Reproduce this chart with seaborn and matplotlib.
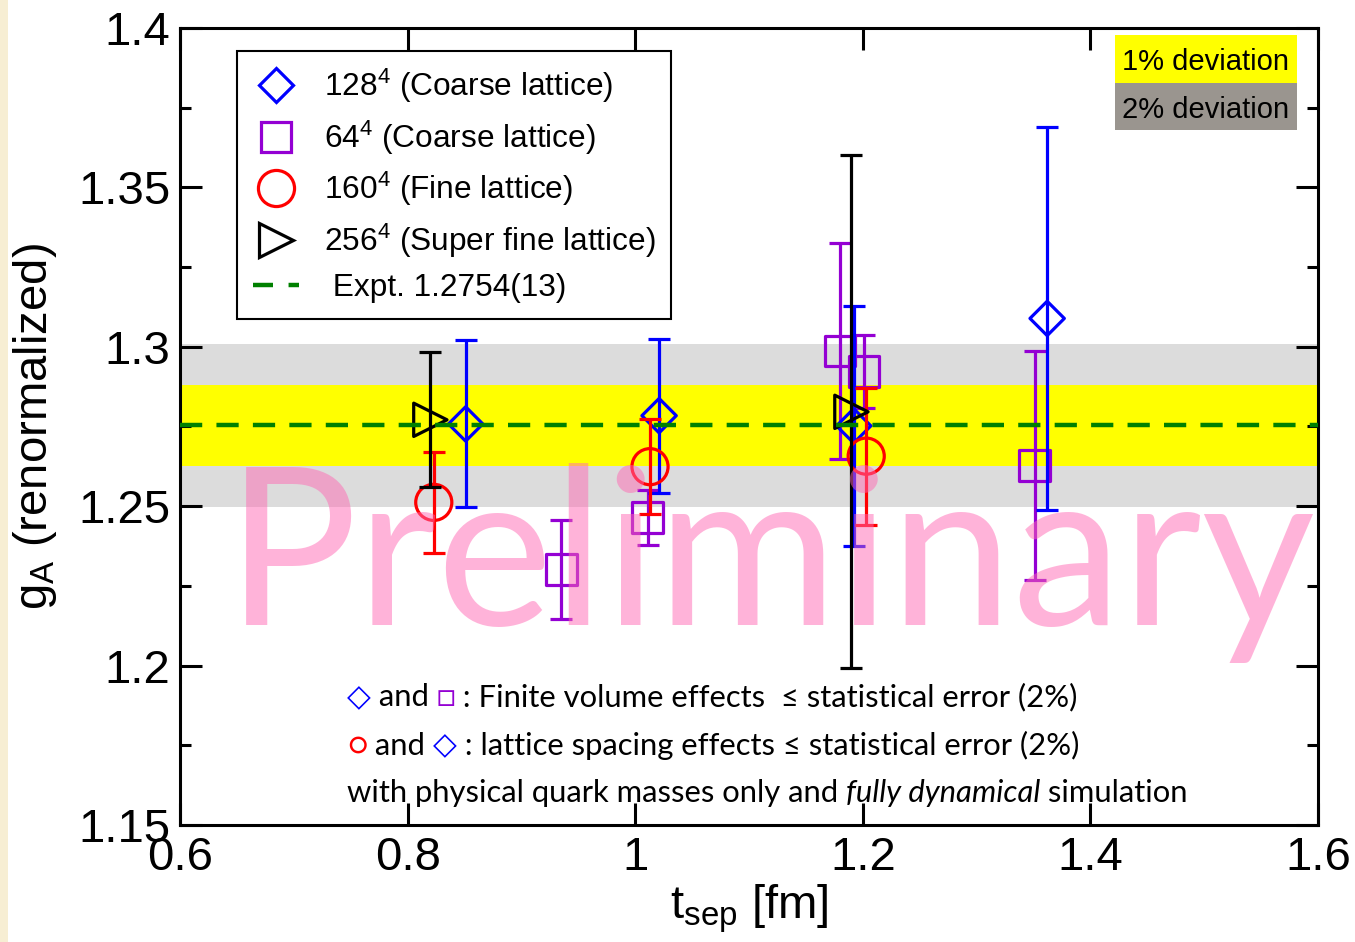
import numpy as np
import pandas as pd
import matplotlib
matplotlib.use('Agg')
import matplotlib.pyplot as plt
import seaborn as sns
from matplotlib.lines import Line2D
from matplotlib.patches import Rectangle

# ---------------- data ----------------
t_128 = [0.851, 1.021, 1.192, 1.362]
g_128 = [1.2758, 1.2784, 1.2752, 1.3089]
e_128 = [0.0262, 0.0242, 0.0377, 0.0600]

t_64 = [0.935, 1.011, 1.180, 1.201, 1.351]
g_64 = [1.2302, 1.2465, 1.2987, 1.2923, 1.2627]
e_64 = [0.0155, 0.0087, 0.0340, 0.0115, 0.0360]

t_160 = [0.823, 1.013, 1.203]
g_160 = [1.2512, 1.2624, 1.2657]
e_160 = [0.0158, 0.0150, 0.0215]

t_256 = [0.820, 1.190]
g_256 = [1.2771, 1.2796]
e_256 = [0.0212, 0.0805]

g_expt = 1.2754
dev_levels = [0.02, 0.01]
dev_labels = ["2% deviation", "1% deviation"]

series_labels = [r"128$^\mathregular{4}$ (Coarse lattice)",
                 r"64$^\mathregular{4}$ (Coarse lattice)",
                 r"160$^\mathregular{4}$ (Fine lattice)",
                 r"256$^\mathregular{4}$ (Super fine lattice)",
                 " Expt. 1.2754(13)"]

x_ticks = [0.6, 0.8, 1.0, 1.2, 1.4, 1.6]
x_ticklabels = ["0.6", "0.8", "1", "1.2", "1.4", "1.6"]
y_ticks = [1.15, 1.2, 1.25, 1.3, 1.35, 1.4]
y_ticklabels = ["1.15", "1.2", "1.25", "1.3", "1.35", "1.4"]

# ---------------- style ----------------
sns.set_theme(style="ticks")
plt.rcParams['font.family'] = ['Liberation Sans', 'DejaVu Sans']
plt.rcParams['mathtext.fontset'] = 'custom'
plt.rcParams['mathtext.rm'] = 'Liberation Sans'
plt.rcParams['mathtext.it'] = 'Liberation Sans:italic'
plt.rcParams['mathtext.bf'] = 'Liberation Sans:bold'
plt.rcParams['text.color'] = 'black'
plt.rcParams['axes.labelcolor'] = 'black'
plt.rcParams['xtick.color'] = 'black'
plt.rcParams['ytick.color'] = 'black'
plt.rcParams['xtick.labelcolor'] = 'black'
plt.rcParams['ytick.labelcolor'] = 'black'

BLUE = '#0000ff'
PURPLE = '#9400d3'
RED = '#ff0000'
BLACK = '#000000'
GREEN = '#008000'

fig = plt.figure(figsize=(13.55, 9.42), dpi=100)
fig.patch.set_facecolor('white')
ax = fig.add_axes([180/1355, 117/942, 1138/1355, 797/942])

# cream strip on the left edge
fig.patches.append(Rectangle((0, 0), 8/1355, 1, transform=fig.transFigure,
                             facecolor='#f7eed3', edgecolor='none', zorder=-5))

# deviation bands
band_colors = {0.02: '#dcdcdc', 0.01: '#ffff00'}
for lev in dev_levels:
    ax.axhspan(g_expt * (1 - lev), g_expt * (1 + lev), color=band_colors[lev],
               lw=0, zorder=0)

# data series
series = [
    (t_64, g_64, e_64, 's', 22, PURPLE, 3),
    (t_128, g_128, e_128, 'D', 17.5, BLUE, 4),
    (t_160, g_160, e_160, 'o', 26, RED, 5),
    (t_256, g_256, e_256, '>', 24, BLACK, 6),
]
for t, g, e, m, ms, c, z in series:
    ax.errorbar(t, g, yerr=e, fmt='none', ecolor=c, elinewidth=2.3,
                capsize=8, capthick=2.3, zorder=z)
    df = pd.DataFrame({'t': t, 'g': g})
    sns.scatterplot(data=df, x='t', y='g', marker=m, s=ms**2, ax=ax,
                    legend=False, zorder=z)
    coll = ax.collections[-1]
    coll.set_facecolor('none')
    coll.set_edgecolor(c)
    coll.set_linewidth(2.3)
    coll.set_zorder(z)

ax.axhline(g_expt, color=GREEN, lw=3.2, dashes=(5, 3.2), zorder=7)

# watermark
ax.text(1.119, 1.2127, "Preliminary", fontsize=158, family=['Lato', 'DejaVu Sans'],
        color='#ff69b4', alpha=0.5, ha='center', va='baseline', zorder=10)

# axes limits / ticks
ax.set_xlim(0.6, 1.6)
ax.set_ylim(1.15, 1.4)
ax.set_xticks(x_ticks)
ax.set_xticklabels(x_ticklabels)
ax.set_yticks(y_ticks)
ax.set_yticklabels(y_ticklabels)
ax.set_yticks(np.arange(1.175, 1.4, 0.05), minor=True)
ax.tick_params(axis='both', which='major', direction='in', length=16, width=2.2,
               labelsize=34, top=True, right=True, color='black', labelcolor='black')
ax.tick_params(axis='y', which='minor', direction='in', length=8, width=2.2,
               left=True, right=True, color='black')
ax.tick_params(axis='y', which='major', pad=7)
ax.tick_params(axis='x', which='major', pad=8)
for sp in ax.spines.values():
    sp.set_linewidth(2.2)
    sp.set_color('black')
    sp.set_visible(True)
ax.set_facecolor('white')

ax.set_xlabel(r"t$_\mathregular{sep}$ [fm]", fontsize=34, labelpad=2, color='black')
ax.set_ylabel(r"g$_\mathregular{A}$ (renormalized)", fontsize=34, labelpad=14, color='black')

# legend
handles = [
    Line2D([], [], ls='none', marker='D', ms=17.5, mfc='none', mec=BLUE, mew=2.3),
    Line2D([], [], ls='none', marker='s', ms=22, mfc='none', mec=PURPLE, mew=2.3),
    Line2D([], [], ls='none', marker='o', ms=26, mfc='none', mec=RED, mew=2.3),
    Line2D([], [], ls='none', marker='>', ms=24, mfc='none', mec=BLACK, mew=2.3),
    Line2D([], [], color=GREEN, lw=3.2, dashes=(4.5, 3.5)),
]
leg = ax.legend(handles, series_labels, loc='upper left',
                bbox_to_anchor=(0.050, 0.971), fontsize=22.8, frameon=True,
                fancybox=False, edgecolor='black', framealpha=1,
                handlelength=1.45, handletextpad=0.8, labelspacing=0.42,
                borderpad=0.5, borderaxespad=0)
leg.get_frame().set_linewidth(1.5)
leg.set_zorder(20)
for txt in leg.get_texts():
    txt.set_color('black')

# deviation label boxes (top right)
box_x0, box_x1 = 0.8216, 0.9815
ax.add_patch(Rectangle((box_x0, 0.931), box_x1 - box_x0, 0.0602, transform=ax.transAxes,
                       facecolor='#ffff00', edgecolor='none', zorder=15))
ax.add_patch(Rectangle((box_x0, 0.872), box_x1 - box_x0, 0.059, transform=ax.transAxes,
                       facecolor='#9a958f', edgecolor='none', zorder=15))
ax.text((box_x0 + box_x1) / 2, 0.957, dev_labels[1], transform=ax.transAxes,
        fontsize=21, ha='center', va='center', zorder=16, color='black')
ax.text((box_x0 + box_x1) / 2, 0.8975, dev_labels[0], transform=ax.transAxes,
        fontsize=21, ha='center', va='center', zorder=16, color='black')

# annotation lines
FAM = ['Lato', 'DejaVu Sans']
ANN_SIZE = 22.3


def text_line(x, y, pieces):
    prev = None
    for txt, col, style in pieces:
        if prev is None:
            prev = ax.text(x, y, txt, transform=ax.transAxes, color=col,
                           fontsize=ANN_SIZE, family=FAM, style=style,
                           ha='left', va='bottom', zorder=16)
        else:
            prev = ax.annotate(txt, xy=(1, 0), xycoords=prev, color=col,
                               fontsize=ANN_SIZE, family=FAM, style=style,
                               ha='left', va='bottom', zorder=16)


text_line(0.1467, 0.143, [("◇", BLUE, 'normal'), (" and ", BLACK, 'normal'),
                          ("□", PURPLE, 'normal'),
                          (" : Finite volume effects  ≤ statistical error (2%)", BLACK, 'normal')])
text_line(0.1467, 0.082, [("○", RED, 'normal'), (" and ", BLACK, 'normal'),
                          ("◇", BLUE, 'normal'),
                          (" : lattice spacing effects ≤ statistical error (2%)", BLACK, 'normal')])
text_line(0.1467, 0.022, [("with physical quark masses only and ", BLACK, 'normal'),
                          ("fully dynamical", BLACK, 'italic'),
                          (" simulation", BLACK, 'normal')])

fig.savefig('out.png', dpi=100)
